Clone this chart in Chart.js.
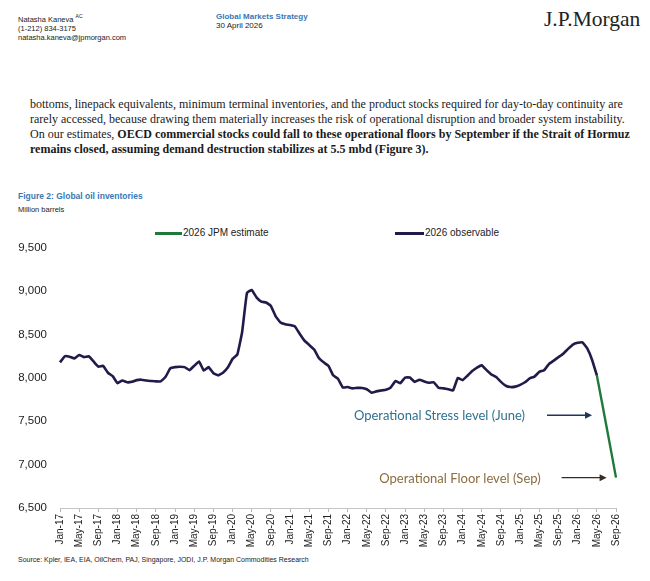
<!DOCTYPE html>
<html>
<head>
<meta charset="utf-8">
<script src="https://cdn.jsdelivr.net/npm/chart.js@4/dist/chart.umd.min.js"></script>
<style>
  html,body{margin:0;padding:0;background:#fff;width:650px;height:581px;overflow:hidden;position:relative;}
  .a{position:absolute;white-space:nowrap;}
  .sans{font-family:"Liberation Sans",Arial,sans-serif;color:#222;}
  .para{font-family:"Liberation Serif","Times New Roman",serif;font-size:12px;color:#1a1a1a;}
  #wrap{position:absolute;left:0;top:228px;width:650px;height:322px;}
</style>
</head>
<body>
<div class="a sans" style="left:18px;top:12px;font-size:7.5px;line-height:9px;">Natasha Kaneva <sup style="font-size:5px">AC</sup><br>(1-212) 834-3175<br>natasha.kaneva@jpmorgan.com</div>
<div class="a sans" style="left:216px;top:12px;font-size:8px;line-height:9px;"><span style="color:#3a78b5;font-weight:bold">Global Markets Strategy</span><br>30 April 2026</div>
<div class="a" style="left:544px;top:7px;font-family:'Liberation Serif',serif;font-size:21.5px;color:#222;">J.P.Morgan</div>

<div class="a para" style="left:30px;top:97px;">bottoms, linepack equivalents, minimum terminal inventories, and the product stocks required for day-to-day continuity are</div>
<div class="a para" style="left:30px;top:112px;">rarely accessed, because drawing them materially increases the risk of operational disruption and broader system instability.</div>
<div class="a para" style="left:30px;top:127px;">On our estimates, <b>OECD commercial stocks could fall to these operational floors by September if the Strait of Hormuz</b></div>
<div class="a para" style="left:30px;top:142px;"><b>remains closed, assuming demand destruction stabilizes at 5.5 mbd (Figure 3).</b></div>

<div class="a sans" style="left:18px;top:191px;font-size:8.5px;color:#3a78b5;font-weight:bold;">Figure 2: Global oil inventories</div>
<div class="a sans" style="left:18px;top:205px;font-size:7.5px;">Million barrels</div>

<div class="a" style="left:155px;top:232px;width:27px;height:3px;background:#1f7a3a;"></div>
<div class="a sans" style="left:183px;top:227px;font-size:10px;">2026 JPM estimate</div>
<div class="a" style="left:395px;top:232px;width:29px;height:3px;background:#231a4a;"></div>
<div class="a sans" style="left:425px;top:227px;font-size:10px;">2026 observable</div>

<div id="wrap"><canvas id="c"></canvas></div>

<div class="a sans" style="left:18px;top:556px;font-size:7px;">Source: Kpler, IEA, EIA, OilChem, PAJ, Singapore, JODI, J.P. Morgan Commodities Research</div>

<script>
const months = [
 "Jan-17","Feb-17","Mar-17","Apr-17","May-17","Jun-17","Jul-17","Aug-17","Sep-17","Oct-17","Nov-17","Dec-17",
 "Jan-18","Feb-18","Mar-18","Apr-18","May-18","Jun-18","Jul-18","Aug-18","Sep-18","Oct-18","Nov-18","Dec-18",
 "Jan-19","Feb-19","Mar-19","Apr-19","May-19","Jun-19","Jul-19","Aug-19","Sep-19","Oct-19","Nov-19","Dec-19",
 "Jan-20","Feb-20","Mar-20","Apr-20","May-20","Jun-20","Jul-20","Aug-20","Sep-20","Oct-20","Nov-20","Dec-20",
 "Jan-21","Feb-21","Mar-21","Apr-21","May-21","Jun-21","Jul-21","Aug-21","Sep-21","Oct-21","Nov-21","Dec-21",
 "Jan-22","Feb-22","Mar-22","Apr-22","May-22","Jun-22","Jul-22","Aug-22","Sep-22","Oct-22","Nov-22","Dec-22",
 "Jan-23","Feb-23","Mar-23","Apr-23","May-23","Jun-23","Jul-23","Aug-23","Sep-23","Oct-23","Nov-23","Dec-23",
 "Jan-24","Feb-24","Mar-24","Apr-24","May-24","Jun-24","Jul-24","Aug-24","Sep-24","Oct-24","Nov-24","Dec-24",
 "Jan-25","Feb-25","Mar-25","Apr-25","May-25","Jun-25","Jul-25","Aug-25","Sep-25","Oct-25","Nov-25","Dec-25",
 "Jan-26","Feb-26","Mar-26","Apr-26","May-26","Jun-26","Jul-26","Aug-26","Sep-26"
];
const shownTickLabels = ["Jan","May","Sep"];

const observable = [
 8180,8250,8245,8225,8265,8240,8250,8190,8130,8140,8060,8020,
 7940,7970,7950,7955,7975,7980,7970,7965,7960,7960,8010,8110,
 8125,8130,8125,8090,8140,8190,8085,8125,8055,8030,8060,8120,
 8220,8270,8530,8980,9015,8930,8880,8870,8830,8710,8640,8620,
 8610,8595,8510,8430,8380,8330,8230,8180,8140,8030,7990,7890,
 7895,7880,7885,7885,7870,7830,7845,7855,7865,7890,7965,7940,
 8005,8005,7955,7980,7960,7945,7950,7885,7880,7870,7855,8000,
 7975,8025,8080,8120,8145,8090,8040,8010,7955,7910,7895,7900,
 7920,7950,7995,8015,8070,8090,8160,8200,8240,8280,8335,8385,
 8405,8410,8340,8210,8030,null,null,null,null
];
const jpmEstimate = [
 null,null,null,null,null,null,null,null,null,null,null,null,
 null,null,null,null,null,null,null,null,null,null,null,null,
 null,null,null,null,null,null,null,null,null,null,null,null,
 null,null,null,null,null,null,null,null,null,null,null,null,
 null,null,null,null,null,null,null,null,null,null,null,null,
 null,null,null,null,null,null,null,null,null,null,null,null,
 null,null,null,null,null,null,null,null,null,null,null,null,
 null,null,null,null,null,null,null,null,null,null,null,null,
 null,null,null,null,null,null,null,null,null,null,null,null,
 null,null,null,null,8030,7740,7445,7150,6850
];
const yTicks = [6500,7000,7500,8000,8500,9000,9500];
const stressLevel = 7570, stressMonth = "Apr-26";
const floorLevel = 6850, floorMonth = "Jun-26";

const annot = {
  id:'annot',
  afterDatasetsDraw(chart){
    const {ctx, scales:{x,y}} = chart;
    function arrow(x1,x2,yy,col){
      ctx.save();
      ctx.strokeStyle=col; ctx.fillStyle=col; ctx.lineWidth=1.3;
      ctx.beginPath(); ctx.moveTo(x1,yy); ctx.lineTo(x2-6,yy); ctx.stroke();
      ctx.beginPath(); ctx.moveTo(x2,yy); ctx.lineTo(x2-7,yy-3.5); ctx.lineTo(x2-7,yy+3.5); ctx.closePath(); ctx.fill();
      ctx.restore();
    }
    ctx.save();
    ctx.font = '13px Lato, "Open Sans", sans-serif';
    ctx.textBaseline='middle'; ctx.textAlign='right';
    const ys = y.getPixelForValue(stressLevel);
    const xs = x.getPixelForValue(months.indexOf(stressMonth));
    arrow(xs-45, xs, ys, '#1d3557');
    ctx.fillStyle='#2f7190';
    ctx.fillText('Operational Stress level (June)', xs-67, ys+1);
    const yf = y.getPixelForValue(floorLevel);
    const xf = x.getPixelForValue(months.indexOf(floorMonth)) + 5;
    arrow(xf-45, xf, yf, '#3a2b1e');
    ctx.fillStyle='#8b6d3f';
    ctx.fillText('Operational Floor level (Sep)', xf-66, yf+1);
    ctx.restore();
  }
};

new Chart(document.getElementById('c'), {
  type:'line',
  data:{
    labels: months,
    datasets:[
      {label:'2026 observable', data: observable, borderColor:'#231a4a', borderWidth:2.6, pointRadius:0, tension:0.1, spanGaps:false},
      {label:'2026 JPM estimate', data: jpmEstimate, borderColor:'#1f7a3a', borderWidth:2.4, pointRadius:0, tension:0}
    ]
  },
  options:{
    responsive:true, maintainAspectRatio:false, animation:false,
    layout:{padding:{left:0,right:34,top:0,bottom:2}},
    plugins:{legend:{display:false}, tooltip:{enabled:false}},
    scales:{
      x:{
        type:'category',
        offset:false,
        border:{display:true,color:'#c4c4c4',width:1},
        grid:{drawOnChartArea:false, drawTicks:true, tickLength:4,
              color:(c)=> (c.index!==undefined && shownTickLabels.includes(months[c.index]?.slice(0,3))) ? '#b8b8b8':'rgba(0,0,0,0)'},
        ticks:{autoSkip:false, maxRotation:90, minRotation:90, padding:2,
               color:'#222', font:{family:'"Liberation Sans", Arial, sans-serif', size:10},
               callback:function(v,i){ const l=months[i]; return shownTickLabels.includes(l.slice(0,3)) ? l : ''; }},
        afterFit(s){ s.height = 40; }
      },
      y:{
        min:6500, max:9500,
        border:{display:false},
        grid:{display:false, drawTicks:false},
        afterBuildTicks(s){ s.ticks = yTicks.map(v=>({value:v})); },
        ticks:{padding:13, color:'#222', font:{family:'"Liberation Sans", Arial, sans-serif', size:11.5},
               callback:(v)=> v.toLocaleString('en-US')},
        afterFit(s){ s.width = 60; }
      }
    }
  },
  plugins:[annot]
});
</script>
</body>
</html>
